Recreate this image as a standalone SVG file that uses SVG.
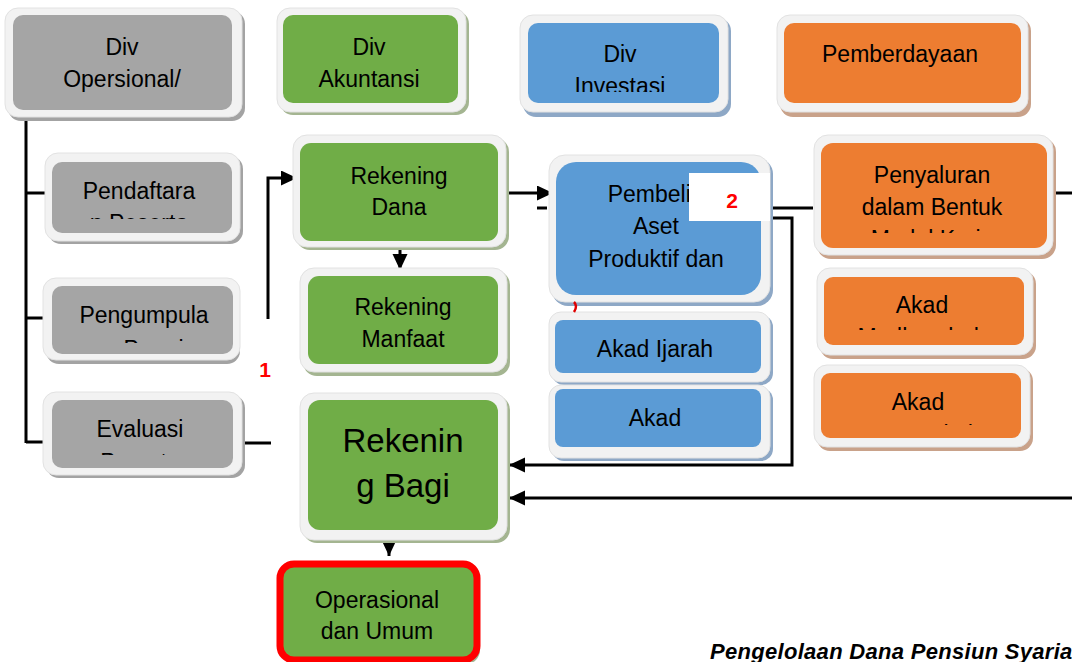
<svg xmlns="http://www.w3.org/2000/svg" width="1072" height="662" viewBox="0 0 1072 662">
<defs>
<style>
.frame{fill:#f2f2f2;stroke:#e2e2e2;stroke-width:1}
.gray .fill{fill:#a5a5a5}.gray .shadow{fill:#a3a3a3}
.green .fill{fill:#70ad47}.green .shadow{fill:#a4b591}
.blue .fill{fill:#5b9bd5}.blue .shadow{fill:#8ea8c6}
.orange .fill{fill:#ed7d31}.orange .shadow{fill:#c9a28a}
text{font-family:"Liberation Sans",Arial,sans-serif;font-size:23px;fill:#000;text-anchor:middle}
.big{font-size:33px}
.num{font-weight:bold;font-size:21px;fill:#ff0000}
.cap{font-weight:bold;font-style:italic;font-size:22px;text-anchor:start;letter-spacing:0.3px}
.conn path,.conn line,.conn polyline{stroke:#000;stroke-width:3;fill:none}
</style>
<marker id="ah" markerUnits="userSpaceOnUse" markerWidth="17" markerHeight="16" refX="16" refY="7.5" orient="auto">
<path d="M0,0 L16,7.5 L0,15 Z" fill="#000"/>
</marker>
<clipPath id="c-pend"><rect x="52" y="162" width="180" height="57"/></clipPath>
<clipPath id="c-peng"><rect x="52" y="286" width="181" height="57"/></clipPath>
<clipPath id="c-eval"><rect x="52" y="400" width="181" height="55"/></clipPath>
<clipPath id="c-inv"><rect x="528" y="23" width="191" height="69"/></clipPath>
<clipPath id="c-peny"><rect x="821" y="143" width="226" height="90"/></clipPath>
<clipPath id="c-mudh"><rect x="824" y="277" width="200" height="53"/></clipPath>
<clipPath id="c-musy"><rect x="821" y="373" width="200" height="52"/></clipPath>
</defs>
<rect width="1072" height="662" fill="#fff"/>

<g id="connectors" class="conn">
<polyline points="26,115 26,443"/>
<line x1="26" y1="193" x2="52" y2="193"/>
<line x1="26" y1="318" x2="52" y2="318"/>
<line x1="26" y1="442" x2="52" y2="442"/>
<line x1="240" y1="443" x2="271" y2="443"/>
<polyline points="268,319 268,178 297,178" marker-end="url(#ah)"/>
<line x1="400" y1="248" x2="400" y2="270" marker-end="url(#ah)"/>
<line x1="509" y1="193" x2="553" y2="193" marker-end="url(#ah)"/>
<line x1="537" y1="208" x2="547" y2="208"/>
<line x1="770" y1="208" x2="813" y2="208"/>
<polyline points="770,218 792,218 792,465 509,465" marker-end="url(#ah)"/>
<line x1="1050" y1="193" x2="1072" y2="193"/>
<line x1="1072" y1="498" x2="509" y2="498" marker-end="url(#ah)"/>
<line x1="389" y1="535" x2="389" y2="556" marker-end="url(#ah)"/>
</g>

<g id="div-operasional" class="gray">
<rect class="shadow" x="8" y="11" width="237" height="110" rx="13"/>
<rect class="frame" x="5" y="8" width="237" height="109" rx="13"/>
<rect class="fill" x="13" y="15" width="219" height="95" rx="10"/>
<text x="122" y="55">Div</text>
<text x="122" y="87">Opersional/</text>
</g>

<g id="div-akuntansi" class="green">
<rect class="shadow" x="280" y="11" width="189" height="104" rx="13"/>
<rect class="frame" x="277" y="8" width="189" height="104" rx="13"/>
<rect class="fill" x="283" y="15" width="175" height="88" rx="10"/>
<text x="369" y="55">Div</text>
<text x="369" y="87">Akuntansi</text>
</g>

<g id="div-investasi" class="blue">
<rect class="shadow" x="523" y="18" width="208" height="99" rx="13"/>
<rect class="frame" x="520" y="15" width="208" height="97" rx="13"/>
<rect class="fill" x="528" y="23" width="191" height="80" rx="10"/>
<g clip-path="url(#c-inv)">
<text x="620" y="62">Div</text>
<text x="620" y="94">Investasi</text>
</g>
</g>

<g id="pemberdayaan" class="orange">
<rect class="shadow" x="780" y="18" width="251" height="99" rx="13"/>
<rect class="frame" x="777" y="15" width="251" height="97" rx="13"/>
<rect class="fill" x="784" y="23" width="237" height="80" rx="10"/>
<text x="900" y="62">Pemberdayaan</text>
</g>

<g id="pendaftaran" class="gray">
<rect class="shadow" x="48" y="156" width="195" height="88" rx="13"/>
<rect class="frame" x="45" y="153" width="195" height="88" rx="13"/>
<rect class="fill" x="52" y="162" width="180" height="71" rx="10"/>
<g clip-path="url(#c-pend)">
<text x="139" y="199">Pendaftara</text>
<text x="139" y="231">n Peserta</text>
</g>
</g>

<g id="rekening-dana" class="green">
<rect class="shadow" x="296" y="138" width="213" height="112" rx="14"/>
<rect class="frame" x="293" y="135" width="213" height="112" rx="14"/>
<rect class="fill" x="300" y="143" width="198" height="98" rx="11"/>
<text x="399" y="184">Rekening</text>
<text x="399" y="215">Dana</text>
</g>

<g id="pembelian-aset" class="blue">
<rect class="shadow" x="552" y="158" width="221" height="148" rx="16"/>
<rect class="frame" x="549" y="155" width="221" height="147" rx="16"/>
<rect class="fill" x="556" y="162" width="205" height="133" rx="20"/>
<text x="662" y="202">Pembelian</text>
<text x="656" y="234">Aset</text>
<text x="656" y="267">Produktif dan</text>
</g>

<g id="penyaluran" class="orange">
<rect class="shadow" x="817" y="138" width="239" height="121" rx="14"/>
<rect class="frame" x="814" y="135" width="239" height="120" rx="14"/>
<rect class="fill" x="821" y="143" width="226" height="105" rx="12"/>
<g clip-path="url(#c-peny)">
<text x="932" y="183">Penyaluran</text>
<text x="932" y="215">dalam Bentuk</text>
<text x="932" y="247">Modal Kerja</text>
</g>
</g>

<g id="pengumpulan" class="gray">
<rect class="shadow" x="46" y="281" width="194" height="83" rx="13"/>
<rect class="frame" x="43" y="278" width="197" height="82" rx="13"/>
<rect class="fill" x="52" y="286" width="181" height="68" rx="10"/>
<g clip-path="url(#c-peng)">
<text x="144" y="323">Pengumpula</text>
<text x="144" y="357">n Premi</text>
</g>
</g>

<g id="rekening-manfaat" class="green">
<rect class="shadow" x="303" y="271" width="207" height="105" rx="14"/>
<rect class="frame" x="300" y="268" width="207" height="104" rx="14"/>
<rect class="fill" x="308" y="276" width="190" height="88" rx="11"/>
<text x="403" y="315">Rekening</text>
<text x="403" y="347">Manfaat</text>
</g>

<g id="akad-ijarah" class="blue">
<rect class="shadow" x="552" y="315" width="221" height="70" rx="12"/>
<rect class="frame" x="549" y="312" width="221" height="70" rx="12"/>
<rect class="fill" x="555" y="320" width="206" height="53" rx="8"/>
<text x="655" y="357">Akad Ijarah</text>
</g>

<g id="akad-mudharabah" class="orange">
<rect class="shadow" x="820" y="271" width="216" height="88" rx="13"/>
<rect class="frame" x="817" y="268" width="216" height="87" rx="13"/>
<rect class="fill" x="824" y="277" width="200" height="68" rx="9"/>
<g clip-path="url(#c-mudh)">
<text x="922" y="313">Akad</text>
<text x="922" y="345">Mudharabah</text>
</g>
</g>

<g id="evaluasi" class="gray">
<rect class="shadow" x="46" y="395" width="199" height="83" rx="13"/>
<rect class="frame" x="43" y="392" width="199" height="83" rx="13"/>
<rect class="fill" x="52" y="400" width="181" height="68" rx="10"/>
<g clip-path="url(#c-eval)">
<text x="140" y="437">Evaluasi</text>
<text x="140" y="470">Peserta</text>
</g>
</g>

<g id="rekening-bagi-hasil" class="green">
<rect class="shadow" x="303" y="396" width="207" height="147" rx="14"/>
<rect class="frame" x="300" y="393" width="207" height="147" rx="14"/>
<rect class="fill" x="308" y="400" width="190" height="130" rx="12"/>
<text class="big" x="403" y="452">Rekenin</text>
<text class="big" x="403" y="497">g Bagi</text>
</g>

<g id="akad" class="blue">
<rect class="shadow" x="552" y="388" width="221" height="73" rx="12"/>
<rect class="frame" x="549" y="385" width="221" height="73" rx="12"/>
<rect class="fill" x="555" y="389" width="206" height="58" rx="8"/>
<text x="655" y="426">Akad</text>
</g>

<g id="akad-musyarakah" class="orange">
<rect class="shadow" x="817" y="368" width="216" height="83" rx="13"/>
<rect class="frame" x="814" y="365" width="216" height="82" rx="13"/>
<rect class="fill" x="821" y="373" width="200" height="65" rx="9"/>
<g clip-path="url(#c-musy)">
<text x="918" y="410">Akad</text>
<text x="918" y="442">Musyarakah</text>
</g>
</g>

<g id="operasional-umum">
<rect x="283" y="567" width="197" height="97" rx="14" fill="#a4b591"/>
<rect x="280" y="564" width="197" height="96" rx="14" fill="#70ad47" stroke="#ff0000" stroke-width="7"/>
<text x="377" y="608">Operasional</text>
<text x="377" y="639">dan Umum</text>
</g>

<g id="label-1">
<rect x="241" y="343" width="58" height="50" fill="#fff"/>
<text class="num" x="265" y="377">1</text>
</g>

<g id="label-2">
<rect x="689" y="173" width="81" height="48" fill="#fff"/>
<text class="num" x="732" y="208">2</text>
</g>

<path d="M574,302 q4,4 0,10" stroke="#e00000" stroke-width="2.5" fill="none"/>

<text class="cap" x="710" y="659">Pengelolaan Dana Pensiun Syariah</text>
</svg>
